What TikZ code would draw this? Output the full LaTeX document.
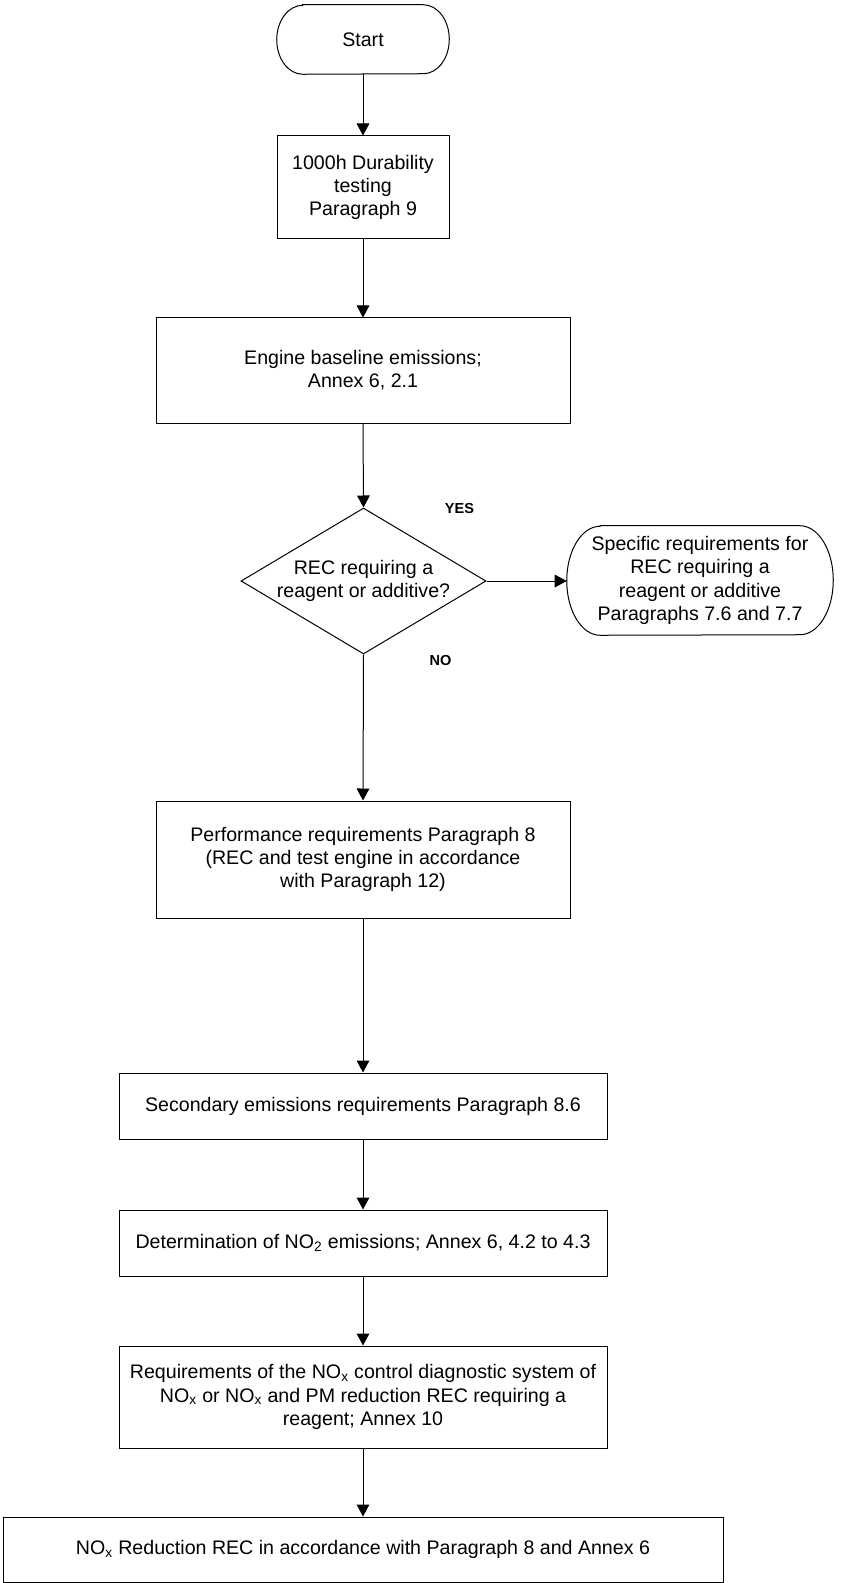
\documentclass[tikz,border=0pt]{standalone}
\usepackage{fontspec}
\setmainfont{Liberation Sans}
\usetikzlibrary{arrows.meta,shapes.geometric}
\newcommand\drawstadium[3]{%
  \draw[outl] ([xshift=#2]#1.north west) -- ([xshift=-#2]#1.north east)
    arc[start angle=90,end angle=-90,x radius=#2,y radius=#3]
    -- ([xshift=#2]#1.south west)
    arc[start angle=270,end angle=90,x radius=#2,y radius=#3] -- cycle;}
\begin{document}
\begin{tikzpicture}[x=0.75pt,y=-0.75pt,
  outl/.style={draw=black,line width=0.75pt},
  txt/.style={font=\fontsize{14.7pt}{17.4pt}\selectfont,align=center,inner sep=0pt},
  boxnode/.style={txt,outl,rectangle},
  termnode/.style={txt,rectangle},
  lbl/.style={font=\fontsize{10.9pt}{13pt}\selectfont\bfseries,inner sep=0pt},
  arr/.style={draw=black,line width=0.75pt,-{Triangle[length=9pt,width=9.5pt]}}]
\useasboundingbox (0,0) rectangle (840,1583);

\node[termnode,minimum width=129pt,minimum height=51.75pt] (start) at (363,39.5) {Start};
\drawstadium{start}{19.5pt}{25.875pt}

\node[boxnode,minimum width=129pt,minimum height=77.25pt] (dur) at (363,187.5)
  {1000h Durability\\testing\\Paragraph 9};

\node[boxnode,minimum width=310.5pt,minimum height=78.75pt] (eng) at (363,370.5)
  {Engine baseline emissions;\\Annex 6, 2.1};

\node[diamond,outl,minimum width=183.75pt,minimum height=109.5pt,inner sep=0pt,
  label={[txt]center:REC requiring a\\reagent or additive?}] (dia) at (363.5,581) {};

\node[termnode,minimum width=199.5pt,minimum height=81.75pt] (spec) at (700,580.5)
  {Specific requirements for\\REC requiring a\\reagent or additive\\Paragraphs 7.6 and 7.7};
\drawstadium{spec}{25pt}{40.875pt}

\node[boxnode,minimum width=310.5pt,minimum height=87.75pt] (perf) at (363,859.5)
  {Performance requirements Paragraph 8\\(REC and test engine in accordance\\with Paragraph 12)};

\node[boxnode,minimum width=366pt,minimum height=49.5pt] (sec) at (363,1106)
  {Secondary emissions requirements Paragraph 8.6};

\node[boxnode,minimum width=366pt,minimum height=49.5pt] (det) at (363,1243)
  {Determination of NO\textsubscript{2} emissions; Annex 6, 4.2 to 4.3};

\node[boxnode,minimum width=366pt,minimum height=76.5pt] (req) at (363,1397)
  {Requirements of the NO\textsubscript{x} control diagnostic system of\\NO\textsubscript{x} or NO\textsubscript{x} and PM reduction REC requiring a\\reagent; Annex 10};

\node[boxnode,minimum width=540pt,minimum height=48.75pt] (last) at (363,1549.5)
  {NO\textsubscript{x} Reduction REC in accordance with Paragraph 8 and Annex 6};

\node[lbl] (yes) at (459.5,508) {YES};
\node[lbl] (no) at (440.5,660) {NO};

\draw[arr] (start.south) -- (dur.north);
\draw[arr] (dur.south) -- (eng.north);
\draw[arr] (eng.south) -- (dia.north);
\draw[arr] (dia.east) -- (dia.east -| spec.west);
\draw[arr] (dia.south) -- (perf.north);
\draw[arr] (perf.south) -- (sec.north);
\draw[arr] (sec.south) -- (det.north);
\draw[arr] (det.south) -- (req.north);
\draw[arr] (req.south) -- (last.north);
\end{tikzpicture}
\end{document}
